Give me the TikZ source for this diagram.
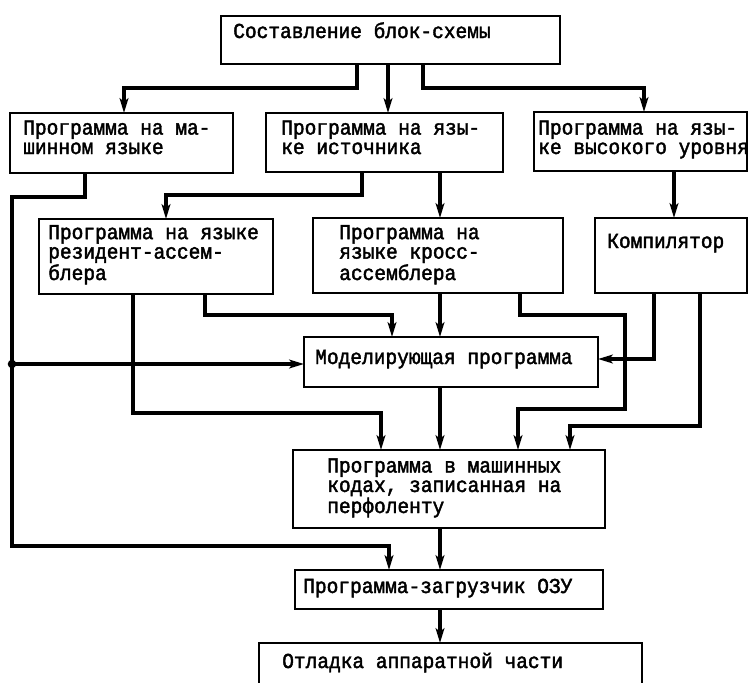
\documentclass[tikz,border=0pt]{standalone}
\usepackage{fontspec}
\newfontfamily\typewriter[FakeStretch=0.914,FakeBold=2]{Liberation Mono}
\usetikzlibrary{arrows.meta,calc}

\tikzset{
  box/.style={draw, line width=1.5pt, rectangle, inner sep=0pt, outer sep=0pt, anchor=north west},
  % captions are placed by the baseline of their last line
  boxtext/.style={anchor=base west, inner sep=0pt, align=left,
    font=\typewriter\fontsize{16pt}{14.6pt}\selectfont},
  conn/.style={line width=2.4pt, line join=miter,
    -{Stealth[length=11pt,width=6.5pt,inset=2.5pt]}}
}

\begin{document}
\begin{tikzpicture}[x=0.75pt, y=-0.75pt]
\useasboundingbox (0,0) rectangle (749,682);
\clip (0,0) rectangle (749,682);

% blocks (top-left corner, size)
\node[box, minimum width=254.25pt, minimum height=36pt]    (T) at (221,16)  {};
\node[box, minimum width=167.25pt, minimum height=45pt]    (A) at (10,113)  {};
\node[box, minimum width=177.75pt, minimum height=44.25pt] (B) at (266,113) {};
\node[box, minimum width=159.75pt, minimum height=44.25pt] (C) at (534,112) {};
\node[box, minimum width=175.5pt,  minimum height=56.25pt] (R) at (39,219)  {};
\node[box, minimum width=187.5pt,  minimum height=56.25pt] (X) at (313,218) {};
\node[box, minimum width=114pt,    minimum height=56.25pt] (K) at (595,218) {};
\node[box, minimum width=220.5pt,  minimum height=37.5pt]  (M) at (304,337) {};
\node[box, minimum width=234pt,    minimum height=58.5pt]  (P) at (293,450) {};
\node[box, minimum width=231pt,    minimum height=29.25pt] (L) at (295,570) {};
\node[box, minimum width=287.25pt, minimum height=57.75pt] (D) at (259,643) {};

% block captions
\node[boxtext] (tT) at (233,38)  {Составление блок-схемы};
\node[boxtext] (tA) at (23,154)  {Программа на ма-\\шинном языке};
\node[boxtext] (tB) at (281,154) {Программа на язы-\\ке источника};
\node[boxtext] (tC) at (538,154) {Программа на язы-\\ке высокого уровня};
\node[boxtext] (tR) at (48,280)  {Программа на языке\\резидент-ассем-\\блера};
\node[boxtext] (tX) at (339,280) {Программа на\\языке кросс-\\ассемблера};
\node[boxtext] (tK) at (607,248) {Компилятор};
\node[boxtext] (tM) at (315,364) {Моделирующая программа};
\node[boxtext] (tP) at (327,513) {Программа в машинных\\кодах, записанная на\\перфоленту};
\node[boxtext] (tL) at (303,593) {Программа-загрузчик ОЗУ};
\node[boxtext] (tD) at (282,668) {Отладка аппаратной части};

% junction on the left bus
\coordinate (jd) at (12,364);

% connectors
\draw[conn] ($(T.south west)+(136,0)$) -- ++(0,24) -| ($(A.north west)+(114,0)$);
\draw[conn] ($(T.south west)+(167,0)$) -- ($(B.north west)+(122,0)$);
\draw[conn] ($(T.south west)+(202,0)$) -- ++(0,24) -| ($(C.north west)+(110,0)$);

\draw[conn] ($(A.south west)+(75,0)$) -- ++(0,24) -| (jd)
            |- ($(L.north west)+(94,-24)$) -- ($(L.north west)+(94,0)$);
\fill (jd) circle[radius=3.2pt];
\draw[conn] (jd) -- (jd -| M.west);

\draw[conn] ($(B.south west)+(96,0)$) -- ++(0,23) -| ($(R.north west)+(127,0)$);
\draw[conn] ($(B.south west)+(174,0)$) -- ($(X.north west)+(127,0)$);
\draw[conn] ($(C.south west)+(140,0)$) -- ($(K.north west)+(79,0)$);

\draw[conn] ($(R.south west)+(94,0)$) |- ($(P.north west)+(88,-37)$) -- ($(P.north west)+(88,0)$);
\draw[conn] ($(R.south west)+(166,0)$) |- ($(M.north west)+(88,-22)$) -- ($(M.north west)+(88,0)$);

\draw[conn] ($(X.south west)+(127,0)$) -- ($(M.north west)+(136,0)$);
\draw[conn] ($(X.south west)+(207,0)$) -- ++(0,22) -- ++(105,0)
            |- ($(P.north west)+(225,-41)$) -- ($(P.north west)+(225,0)$);

\draw[conn] ($(K.south west)+(59,0)$) |- ($(M.north east)+(0,22)$);
\draw[conn] ($(K.south west)+(105,0)$) |- ($(P.north west)+(277,-24)$) -- ($(P.north west)+(277,0)$);

\draw[conn] ($(M.south west)+(136,0)$) -- ($(P.north west)+(147,0)$);
\draw[conn] ($(P.south west)+(147,0)$) -- ($(L.north west)+(145,0)$);
\draw[conn] ($(L.south west)+(145,0)$) -- ($(D.north west)+(181,0)$);
\end{tikzpicture}
\end{document}
